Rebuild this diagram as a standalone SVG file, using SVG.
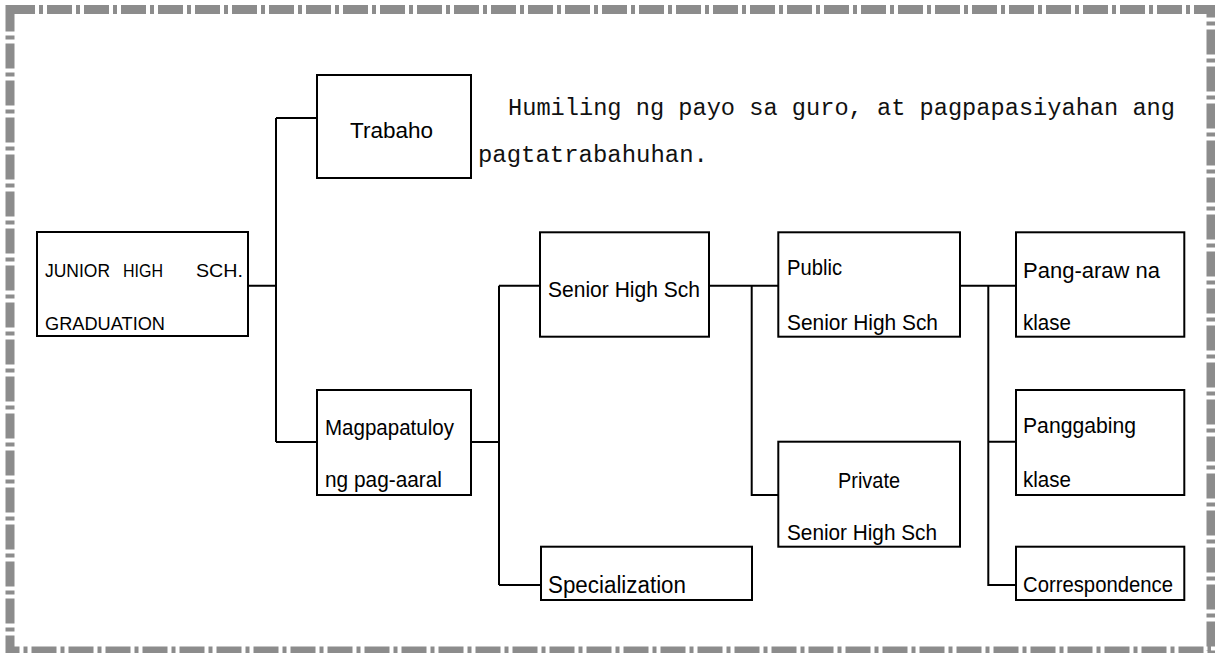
<svg xmlns="http://www.w3.org/2000/svg" width="1215" height="653" viewBox="0 0 1215 653">
<style>
.box{fill:#fff;stroke:#000;stroke-width:2}
.ln{fill:none;stroke:#000;stroke-width:2}
.t{font-family:"Liberation Sans",Arial,sans-serif;font-size:21.5px;fill:#000}
.s{font-family:"Liberation Sans",Arial,sans-serif;font-size:19px;fill:#000}
.m{font-family:"Liberation Mono","Courier New",monospace;font-size:23px;fill:#111}
</style>
<rect width="1215" height="653" fill="#fff"/>
<rect x="10" y="9.5" width="1201" height="641.5" fill="none" stroke="#8c8c8c" stroke-width="9" stroke-dasharray="25 4 4 4"/>
<g id="connectors">
<path class="ln" d="M248 285.7H276M276 118V442M276 118H317M276 442H317"/>
<path class="ln" d="M471 442H499M499 285.7V585M499 285.7H540M499 585H541"/>
<path class="ln" d="M709 285.7H778M751.7 285.7V495H778"/>
<path class="ln" d="M960 285.7H1016M988.3 285.7V585H1016M988.3 441.7H1016"/>
</g>
<g id="junior">
<rect class="box" x="37" y="232" width="211" height="104"/>
<text class="s" x="45" y="277" textLength="65" lengthAdjust="spacingAndGlyphs">JUNIOR</text>
<text class="s" x="123" y="277" textLength="40" lengthAdjust="spacingAndGlyphs">HIGH</text>
<text class="s" x="196" y="277" textLength="47" lengthAdjust="spacingAndGlyphs">SCH.</text>
<text class="s" x="45" y="330" textLength="120" lengthAdjust="spacingAndGlyphs">GRADUATION</text>
</g>
<g id="trabaho">
<rect class="box" x="317" y="75" width="154" height="103"/>
<text class="t" x="350" y="138" textLength="83" lengthAdjust="spacingAndGlyphs">Trabaho</text>
</g>
<g id="note">
<text class="m" x="508" y="115" textLength="667" lengthAdjust="spacingAndGlyphs">Humiling ng payo sa guro, at pagpapasiyahan ang</text>
<text class="m" x="478" y="162" textLength="230" lengthAdjust="spacingAndGlyphs">pagtatrabahuhan.</text>
</g>
<g id="magpapatuloy">
<rect class="box" x="317" y="390" width="154" height="105"/>
<text class="t" x="325" y="435" textLength="129" lengthAdjust="spacingAndGlyphs">Magpapatuloy</text>
<text class="t" x="325" y="487" textLength="117" lengthAdjust="spacingAndGlyphs">ng pag-aaral</text>
</g>
<g id="senior">
<rect class="box" x="540" y="232.3" width="169" height="104.4"/>
<text class="t" x="548" y="297" textLength="152" lengthAdjust="spacingAndGlyphs">Senior High Sch</text>
</g>
<g id="specialization">
<rect class="box" x="541" y="546.7" width="211" height="53.3"/>
<text class="t" x="548" y="593" textLength="138" lengthAdjust="spacingAndGlyphs" style="font-size:23.5px">Specialization</text>
</g>
<g id="public">
<rect class="box" x="778.3" y="232.3" width="181.7" height="104.4"/>
<text class="t" x="787" y="275" textLength="55" lengthAdjust="spacingAndGlyphs">Public</text>
<text class="t" x="787" y="330" textLength="151" lengthAdjust="spacingAndGlyphs">Senior High Sch</text>
</g>
<g id="private">
<rect class="box" x="778.3" y="441.7" width="181.7" height="105"/>
<text class="t" x="838" y="488" textLength="62" lengthAdjust="spacingAndGlyphs">Private</text>
<text class="t" x="787" y="540" textLength="150" lengthAdjust="spacingAndGlyphs">Senior High Sch</text>
</g>
<g id="pangaraw">
<rect class="box" x="1016" y="232.3" width="168.3" height="104.4"/>
<text class="t" x="1023" y="278" textLength="137" lengthAdjust="spacingAndGlyphs">Pang-araw na</text>
<text class="t" x="1023" y="330" textLength="48" lengthAdjust="spacingAndGlyphs">klase</text>
</g>
<g id="panggabing">
<rect class="box" x="1016" y="390" width="168.3" height="105"/>
<text class="t" x="1023" y="433" textLength="113" lengthAdjust="spacingAndGlyphs">Panggabing</text>
<text class="t" x="1023" y="487" textLength="48" lengthAdjust="spacingAndGlyphs">klase</text>
</g>
<g id="correspondence">
<rect class="box" x="1016" y="546.7" width="168.3" height="53.3"/>
<text class="t" x="1023" y="592" textLength="150" lengthAdjust="spacingAndGlyphs">Correspondence</text>
</g>
</svg>
